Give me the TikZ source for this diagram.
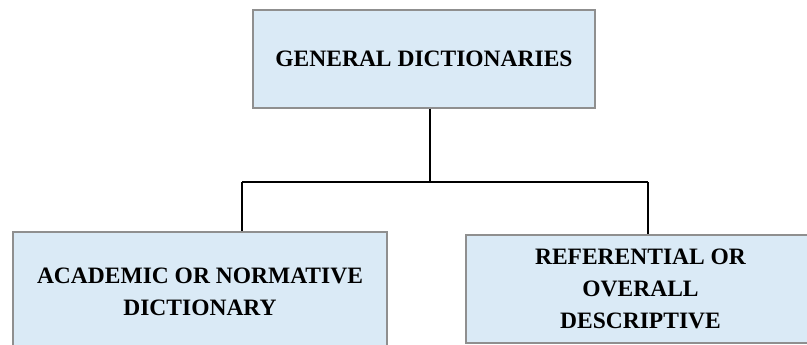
\documentclass[tikz,border=0pt]{standalone}
\usepackage{fontspec}
\setmainfont{Liberation Serif}
\usetikzlibrary{positioning}
\definecolor{boxfill}{HTML}{DAEAF6}
\definecolor{boxline}{HTML}{8F8F8F}
\tikzset{
  dict/.style={
    % The shape:
    shape=rectangle,
    % The border:
    line width=1.3pt,
    draw=boxline,
    % The filling:
    fill=boxfill,
    % The text:
    align=center,
    font=\fontsize{23.5}{32}\selectfont\bfseries,
    inner sep=0pt}}
\tikzset{
  link/.style={
    line width=1.1pt,draw=black}}

\begin{document}
\begin{tikzpicture}[x=1pt,y=-1pt]
	\useasboundingbox (0,0) rectangle (807,345);
	\node[dict,minimum width=342pt,minimum height=98pt] (gen) at (424,59) {GENERAL DICTIONARIES};
	\node[dict,minimum width=374pt,minimum height=120pt] (acad) at (200,292) {ACADEMIC OR NORMATIVE\\DICTIONARY};
	\node[dict,minimum width=349pt,minimum height=108pt] (ref) at (640.5,289) {REFERENTIAL OR\\OVERALL\\DESCRIPTIVE};
	% Junction points
	\coordinate (split) at (430,182);
	\coordinate (lj) at (242,182);
	\coordinate (rj) at (648,182);
	% Lines out of gen
	\draw[link] (split |- gen.south) -- (split);
	\draw[link] (lj) -- (rj);
	% Lines into the two kinds
	\draw[link] (lj) -- (lj |- acad.north);
	\draw[link] (rj) -- (rj |- ref.north);
\end{tikzpicture}
\end{document}
